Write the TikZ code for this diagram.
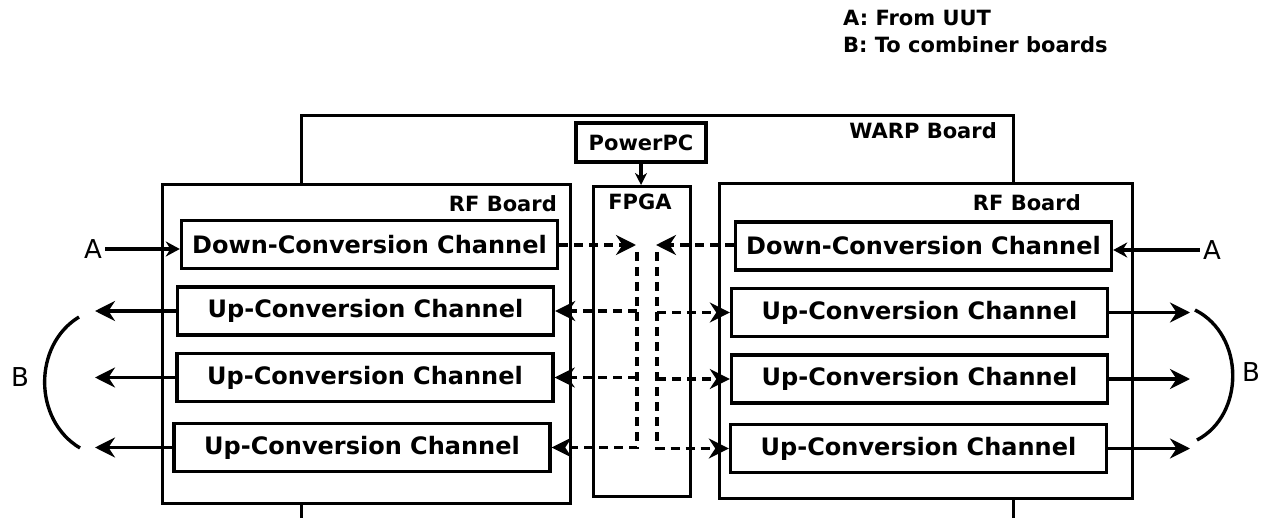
\documentclass[tikz,border=0pt]{standalone}
\usepackage{fontspec}
\setmainfont{DejaVu Sans}
\usetikzlibrary{arrows.meta,positioning}

\begin{document}
\begin{tikzpicture}[
  x=1pt,y=-1pt,
  board/.style={draw,line width=3.4pt,fill=white,inner sep=0pt,font=\fontsize{21}{25}\selectfont\bfseries},
  chan/.style={draw,line width=3.4pt,fill=white,minimum width=376pt,minimum height=48pt,inner sep=0pt,font=\fontsize{24}{28}\selectfont\bfseries},
  tag/.style={inner sep=0pt,font=\fontsize{21}{25}\selectfont\bfseries},
  io/.style={inner sep=3pt,font=\fontsize{26}{30}\selectfont},
  link/.style={line width=3.4pt,-{Stealth[length=20pt,width=20pt]}},
  dlink/.style={link,dash pattern=on 9pt off 6pt}
]
\useasboundingbox (0,0) rectangle (1268,518);
\clip (0,0) rectangle (1268,518);

% legend
\node[tag,anchor=base west] (lega) at (843,26) {A: From UUT};
\node[tag,anchor=base west] (legb) at (843,53) {B: To combiner boards};

% boards
\node[board,anchor=north west,minimum width=712pt,minimum height=460pt] (warp) at (300,114) {};
\node[tag,anchor=base east] (warplbl) at (997,139) {WARP Board};
\node[board,anchor=north west,minimum width=408pt,minimum height=319pt] (lrf) at (161,183) {};
\node[tag,anchor=base east] (lrflbl) at (557,212) {RF Board};
\node[board,anchor=north west,minimum width=413pt,minimum height=315pt] (rrf) at (718,182) {};
\node[tag,anchor=base east] (rrflbl) at (1081,211) {RF Board};
\node[board,anchor=north west,minimum width=97pt,minimum height=310pt] (fpga) at (592,185) {};
\node[tag,anchor=base] (fpgalbl) at (640,210) {FPGA};
\node[board,minimum width=130pt,minimum height=39pt] (ppc) at (641,142.5) {PowerPC};

% channels
\node[chan] (ld) at (369.5,244.5) {Down-Conversion Channel};
\node[chan] (lu1) at (365.5,311) {Up-Conversion Channel};
\node[chan] (lu2) at (365,377.5) {Up-Conversion Channel};
\node[chan] (lu3) at (362,447.5) {Up-Conversion Channel};
\node[chan] (rd) at (923.5,246) {Down-Conversion Channel};
\node[chan] (ru1) at (919.5,312.5) {Up-Conversion Channel};
\node[chan] (ru2) at (919.5,379) {Up-Conversion Channel};
\node[chan] (ru3) at (918.5,448.5) {Up-Conversion Channel};

% outside labels
\node[io] (la) at (93,249) {A};
\node[io] (ra) at (1212,250) {A};
\node[io] (lb) at (20,377) {B};
\node[io] (rb) at (1251,372) {B};
\coordinate (lbx) at (95,0);
\coordinate (rbx) at (1190,0);

% dashed links through the FPGA
\coordinate (lin) at (636,245);
\coordinate (rin) at (656,245);
\coordinate (lbus) at (637,252);
\coordinate (rbus) at (657,252);

\draw[link,-{Stealth[length=12pt,width=12pt]}] (ppc.south) -- (ppc.south |- fpga.north);
\draw[link,-{Stealth[length=14pt,width=15pt]}] (la.east) -- (la.east -| ld.west);
\draw[link,-{Stealth[length=14pt,width=15pt]}] (ra.west) -- (ra.west -| rd.east);

\draw[link] (lu1.west) -- (lu1.west -| lbx);
\draw[link] (lu2.west) -- (lu2.west -| lbx);
\draw[link] (lu3.west) -- (lu3.west -| lbx);
\draw[link] (ru1.east) -- (ru1.east -| rbx);
\draw[link] (ru2.east) -- (ru2.east -| rbx);
\draw[link] (ru3.east) -- (ru3.east -| rbx);

\draw[line width=3.4pt] (79,317) .. controls (33,345) and (33,420) .. (80,448);
\draw[line width=3.4pt] (1195,310) .. controls (1245,335) and (1245,415) .. (1197,440);

\draw[dlink] (ld.east |- lin) -- (lin);
\draw[dlink] (rd.west |- rin) -- (rin);
\draw[dlink] (lbus) |- (lu3.east);
\draw[dlink] (lbus |- lu1.east) -- (lu1.east);
\draw[dlink] (lbus |- lu2.east) -- (lu2.east);
\draw[dlink] (rbus) |- (ru3.west);
\draw[dlink] (rbus |- ru1.west) -- (ru1.west);
\draw[dlink] (rbus |- ru2.west) -- (ru2.west);
\end{tikzpicture}
\end{document}
